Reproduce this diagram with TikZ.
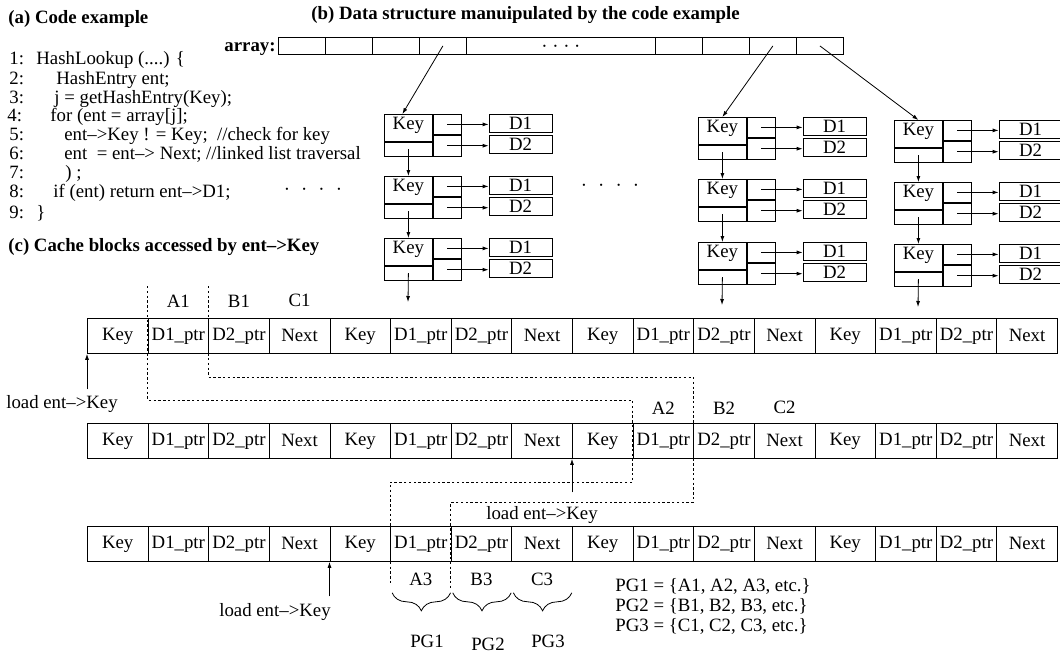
\documentclass[tikz,border=0pt]{standalone}
\usepackage{fontspec}
\setmainfont{Liberation Serif}
\usetikzlibrary{arrows.meta,positioning,decorations.pathreplacing}

\begin{document}
\begin{tikzpicture}[x=0.5pt,y=-0.5pt,font=\fontsize{9.4}{11}\selectfont,
  every node/.style={inner sep=0.5pt},
  ttl/.style={font=\fontsize{9.4}{11}\selectfont\bfseries,anchor=base west},
  code/.style={anchor=base west},
  cell/.style={draw,anchor=north west,inner sep=0pt,minimum width=30.3125pt,minimum height=17.5pt},
  acell/.style={draw,anchor=north west,inner sep=0pt,minimum width=23.5pt,minimum height=8.5pt},
  keyc/.style={draw,anchor=north west,inner sep=0pt,minimum width=24pt,minimum height=13.5pt,text depth=5pt},
  nxtc/.style={draw,anchor=north west,inner sep=0pt,minimum width=24pt,minimum height=7pt},
  ptra/.style={draw,anchor=north west,inner sep=0pt,minimum width=14pt,minimum height=10pt},
  ptrb/.style={draw,anchor=north west,inner sep=0pt,minimum width=14pt,minimum height=10.5pt},
  dbox/.style={draw,anchor=north west,inner sep=0pt,minimum width=31.5pt,minimum height=9pt},
  ptr/.style={-{Latex[length=3pt,width=2pt]}},
  blk/.style={dash pattern=on 1.2pt off 1.2pt},
  brc/.style={decorate,decoration={brace,mirror,amplitude=9pt}}]
  \useasboundingbox (0,0) rectangle (1060,671);

  \node[ttl] (ta) at (7,23) {(a) Code example};
  \node[ttl] (tb) at (310,19) {(b) Data structure manuipulated by the code example};
  \node[ttl] (tc) at (7,251) {(c) Cache blocks accessed by ent\textendash>Key};
  \node[ttl,anchor=base east] (tarr) at (277,51) {array:};

  \foreach \n/\nx/\x/\y/\t in {1/8/35/64/{HashLookup (....) \{},2/8/55/84/{HashEntry ent;},
      3/8/53/103/{j = getHashEntry(Key);},4/6/49/121/{for (ent = array[j];},
      5/8/63/140/{ent\textendash>Key ! = Key;\ \ //check for key},
      6/8/63/159/{ent\ \ = ent\textendash> Next; //linked list traversal},
      7/8/64/178/{) ;},8/8/52/197/{if (ent) return ent\textendash>D1;},9/8/35/218/{\}}} {
    \node[code] (ln\n) at (\nx,\y) {\n:};
    \node[code] (cd\n) at (\x,\y) {\t};
  }

  \foreach \i/\x in {1/278,2/325,3/372,4/419,6/655,7/702,8/749,9/796}
    \node[acell] (a\i) at (\x,37) {};
  \node[acell,minimum width=94.5pt] (a5) at (466,37) {};
  \node (adots) at ([yshift=-1.3pt]a5.center)
    {\textperiodcentered\ \textperiodcentered\ \textperiodcentered\ \textperiodcentered};

  \foreach \c/\x/\ya/\yb/\yc in {1/384/114/176/238,2/698/117/179/242,3/894/120/182/244}
    \foreach \r/\y in {1/\ya,2/\yb,3/\yc} {
      \node[keyc] (k\c-\r) at (\x,\y) {Key};
      \node[nxtc] (n\c-\r) at (k\c-\r.south west) {};
      \node[ptra] (p\c-\r) at (k\c-\r.north east) {};
      \node[ptrb] (q\c-\r) at (p\c-\r.south west) {};
      \node[dbox] (d\c-\r) at ([xshift=13.5pt]p\c-\r.north east) {D1};
      \node[dbox] (e\c-\r) at ([xshift=13.5pt]q\c-\r.north east) {D2};
      \draw[ptr] (p\c-\r.center) -- (p\c-\r.center -| d\c-\r.west);
      \draw[ptr] (q\c-\r.center) -- (q\c-\r.center -| e\c-\r.west);
    }

  \coordinate (x1) at (408,302);
  \coordinate (x2) at (722,305);
  \coordinate (x3) at (918,307);
  \foreach \c in {1,2,3} {
    \draw[ptr] (n\c-1.center) -- (k\c-2.north);
    \draw[ptr] (n\c-2.center) -- (k\c-3.north);
    \draw[ptr] (n\c-3.center) -- (x\c);
  }
  \draw[ptr] (a4.center) -- ([xshift=-3pt]k1-1.north);
  \draw[ptr] (a8.center) -- (k2-1.north);
  \draw[ptr] (a9.center) -- (k3-1.north);

  \node (dt1) at (313,192) {\textperiodcentered\hspace{5.5pt}\textperiodcentered\hspace{5.5pt}\textperiodcentered\hspace{5.5pt}\textperiodcentered};
  \node (dt2) at (610,188) {\textperiodcentered\hspace{5.5pt}\textperiodcentered\hspace{5.5pt}\textperiodcentered\hspace{5.5pt}\textperiodcentered};

  \foreach \r/\ty in {1/318,2/423,3/526}
    \foreach \lab [count=\c] in {Key,D1\_ptr,D2\_ptr,Next,Key,D1\_ptr,D2\_ptr,Next,
        Key,D1\_ptr,D2\_ptr,Next,Key,D1\_ptr,D2\_ptr,Next}
      \node[cell] (r\r-\c) at ({87+60.625*(\c-1)},\ty) {\lab};

  \foreach \c/\t in {2/A1,3/B1,4/C1} \node (l\t) [above=4.75pt of r1-\c] {\t};
  \foreach \c/\t in {10/A2,11/B2,12/C2} \node (l\t) [above=3.75pt of r2-\c] {\t};
  \foreach \c/\t in {6/A3,7/B3,8/C3} \node (l\t) [below=4.9pt of r3-\c] {\t};

  \draw[blk] (147.6,286) -- (147.6,400) -- (632.6,400) -- (632.6,482) -- (390.1,482) -- (390.1,583);
  \draw[blk] (208.3,286) -- (208.3,377) -- (693.3,377) -- (693.3,502) -- (450.8,502) -- (450.8,588);

  \node (ld1) at (62,404) {load ent\textendash>Key};
  \node (ld2) at (542,515) {load ent\textendash>Key};
  \node (ld3) at (275,612) {load ent\textendash>Key};
  \draw[ptr] (r1-1.south west |- ld1.north) ++(0,-4.6) -- (r1-1.south west);
  \draw[ptr] (r2-9.south west |- ld2.north) ++(0,-12.6) -- (r2-9.south west);
  \draw[ptr] (r3-5.south west |- ld3.north) ++(0,-5.6) -- (r3-5.south west);

  \foreach \c in {6,7,8}
    \draw[brc] ([xshift=1pt,yshift=-15.5pt]r3-\c.south west) -- ([xshift=-0.5pt,yshift=-15.5pt]r3-\c.south east);
  \node (pg1) at (427,641) {PG1};
  \node (pg2) at (488,644) {PG2};
  \node (pg3) at (548,641) {PG3};
  \node[code] (pgs1) at (614,591) {PG1 = \{A1, A2, A3, etc.\}};
  \node[code] (pgs2) at (614,611) {PG2 = \{B1, B2, B3, etc.\}};
  \node[code] (pgs3) at (614,631) {PG3 = \{C1, C2, C3, etc.\}};
\end{tikzpicture}
\end{document}
